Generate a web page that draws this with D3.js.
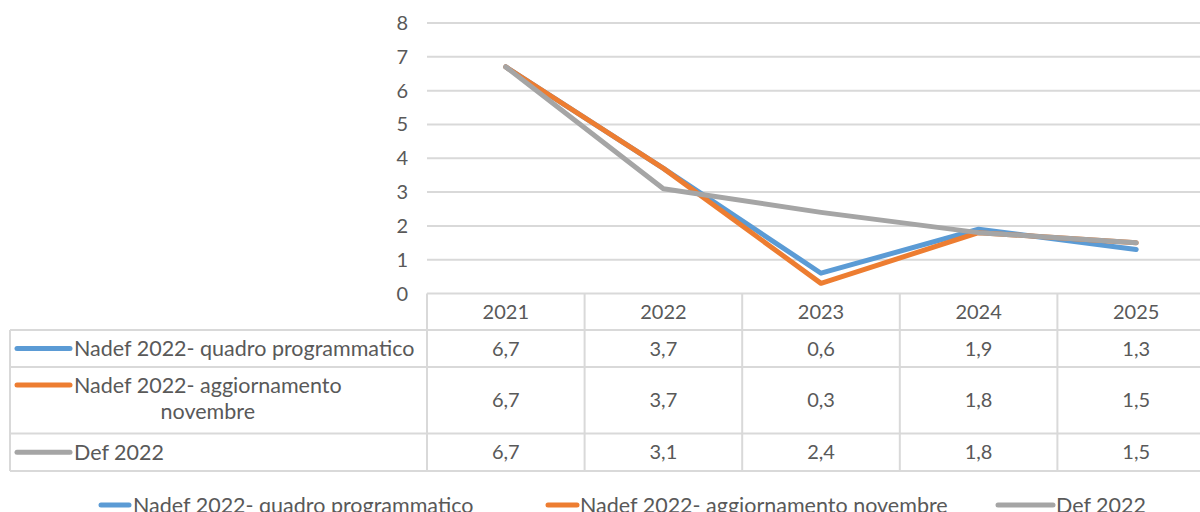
<!DOCTYPE html>
<html>
<head>
<meta charset="utf-8">
<script src="https://cdn.jsdelivr.net/npm/d3@7"></script>
<style>
  body { margin: 0; background: #fff; }
  svg { display: block; font-family: Lato, "Open Sans", sans-serif; }
</style>
</head>
<body>
<svg id="chart" width="1200" height="512"></svg>
<script>
//---- Data ---------------------------------------------------------------------
var years = ["2021", "2022", "2023", "2024", "2025"];
var seriesNames = [
  "Nadef 2022- quadro programmatico",
  "Nadef 2022- aggiornamento novembre",
  "Def 2022"
];
var quadroValues = [6.7, 3.7, 0.6, 1.9, 1.3];
var aggiornamentoValues = [6.7, 3.7, 0.3, 1.8, 1.5];
var defValues = [6.7, 3.1, 2.4, 1.8, 1.5];
var yTicks = [0, 1, 2, 3, 4, 5, 6, 7, 8];
var seriesColors = ["#5b9bd5", "#ed7d31", "#a5a5a5"];

var series = [quadroValues, aggiornamentoValues, defValues].map(function (v, i) {
  return { name: seriesNames[i], color: seriesColors[i], values: v };
});

//---- Layout -------------------------------------------------------------------
var svg = d3.select("#chart");
var textColor = "#595959";
var gridColor = "#d9d9d9";
var fontSize = 20;
var labelSize = 21.5;  // row labels look a touch wider than the digits

var x = d3.scaleBand().domain(years).range([427, 1215]);
var y = d3.scaleLinear().domain([0, 8]).range([293.5, 23]);

// table geometry: rows are header, 3 series rows
var tableLeft = 10;
var rowEdges = [293.5, 330, 367, 433.5, 471];
var fmt = function (v) { return d3.format(".1f")(v).replace(".", ","); };

//---- Gridlines & y axis -------------------------------------------------------
var grid = svg.append("g");
grid.selectAll("line")
  .data(yTicks.filter(function (t) { return t > 0; }))
  .enter().append("line")
  .attr("x1", x.range()[0]).attr("x2", x.range()[1])
  .attr("y1", function (d) { return y(d); })
  .attr("y2", function (d) { return y(d); })
  .attr("stroke", gridColor).attr("stroke-width", 2);

svg.append("g").selectAll("text")
  .data(yTicks)
  .enter().append("text")
  .attr("x", 408)
  .attr("y", function (d) { return y(d); })
  .attr("dy", "0.35em")
  .attr("text-anchor", "end")
  .attr("fill", textColor)
  .attr("font-size", fontSize)
  .text(function (d) { return d; });

//---- Data table ---------------------------------------------------------------
var table = svg.append("g").attr("stroke", gridColor).attr("stroke-width", 2);
// horizontal lines
rowEdges.forEach(function (ry, i) {
  table.append("line")
    .attr("x1", i === 0 ? x.range()[0] : tableLeft).attr("x2", x.range()[1])
    .attr("y1", ry).attr("y2", ry);
});
// vertical lines: band edges
var colEdges = years.map(function (yr) { return x(yr); }).concat([x.range()[1]]);
colEdges.forEach(function (cx) {
  table.append("line")
    .attr("x1", cx).attr("x2", cx)
    .attr("y1", rowEdges[0]).attr("y2", rowEdges[rowEdges.length - 1]);
});
table.append("line")
  .attr("x1", tableLeft).attr("x2", tableLeft)
  .attr("y1", rowEdges[1]).attr("y2", rowEdges[rowEdges.length - 1]);

// header years
svg.append("g").selectAll("text")
  .data(years)
  .enter().append("text")
  .attr("x", function (d) { return x(d) + x.bandwidth() / 2; })
  .attr("y", (rowEdges[0] + rowEdges[1]) / 2)
  .attr("dy", "0.35em")
  .attr("text-anchor", "middle")
  .attr("fill", textColor)
  .attr("font-size", fontSize)
  .text(function (d) { return d; });

// series rows
series.forEach(function (s, i) {
  var cy = (rowEdges[i + 1] + rowEdges[i + 2]) / 2;
  var g = svg.append("g");
  var keyY = i === 1 ? 385 : cy;
  g.append("line")
    .attr("x1", 17).attr("x2", 70)
    .attr("y1", keyY).attr("y2", keyY)
    .attr("stroke", s.color).attr("stroke-width", 5)
    .attr("stroke-linecap", "round");
  if (i === 1) {
    // wrapped label, second line centred under the first
    var t1 = g.append("text")
      .attr("x", 74).attr("y", keyY).attr("dy", "0.35em")
      .attr("fill", textColor).attr("font-size", labelSize)
      .text("Nadef 2022- aggiornamento");
    var w = t1.node().getComputedTextLength();
    g.append("text")
      .attr("x", 74 + w / 2).attr("y", 411).attr("dy", "0.35em")
      .attr("text-anchor", "middle")
      .attr("fill", textColor).attr("font-size", labelSize)
      .text("novembre");
  } else {
    g.append("text")
      .attr("x", 74).attr("y", cy).attr("dy", "0.35em")
      .attr("fill", textColor).attr("font-size", labelSize)
      .text(s.name);
  }
  g.selectAll("text.val")
    .data(s.values)
    .enter().append("text")
    .attr("class", "val")
    .attr("x", function (d, j) { return x(years[j]) + x.bandwidth() / 2; })
    .attr("y", cy)
    .attr("dy", "0.35em")
    .attr("text-anchor", "middle")
    .attr("fill", textColor)
    .attr("font-size", fontSize)
    .text(fmt);
});

//---- Lines --------------------------------------------------------------------
var line = d3.line()
  .x(function (d, j) { return x(years[j]) + x.bandwidth() / 2; })
  .y(function (d) { return y(d); });

svg.append("g").selectAll("path")
  .data(series)
  .enter().append("path")
  .attr("d", function (d) { return line(d.values); })
  .attr("fill", "none")
  .attr("stroke", function (d) { return d.color; })
  .attr("stroke-width", 5)
  .attr("stroke-linecap", "round")
  .attr("stroke-linejoin", "round");

//---- Bottom legend (cut by the bottom edge, as in the reference) --------------
var legendItems = [
  { x1: 101, x2: 129, tx: 133 },
  { x1: 548, x2: 577, tx: 580 },
  { x1: 998, x2: 1053, tx: 1056 }
];
var legend = svg.append("g");
series.forEach(function (s, i) {
  var it = legendItems[i];
  legend.append("line")
    .attr("x1", it.x1).attr("x2", it.x2)
    .attr("y1", 505).attr("y2", 505)
    .attr("stroke", s.color).attr("stroke-width", 5)
    .attr("stroke-linecap", "round");
  legend.append("text")
    .attr("x", it.tx).attr("y", 512.5)
    .attr("fill", textColor).attr("font-size", labelSize)
    .text(s.name);
});
</script>
</body>
</html>
